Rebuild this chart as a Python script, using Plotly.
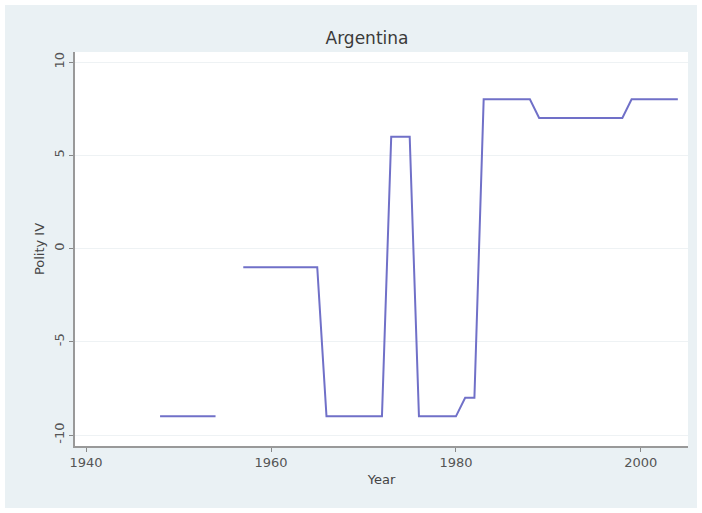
import plotly.graph_objects as go

years = list(range(1948, 2005))
polity = ([-9] * 7 + [None] * 2 + [-1] * 9 + [-9] * 7 + [6] * 3 + [-9] * 5
          + [-8] * 2 + [8] * 6 + [7] * 10 + [8] * 6)
x_ticks = [1940, 1960, 1980, 2000]
y_ticks = [-10, -5, 0, 5, 10]
y_tick_labels = ["-10", "-5", "0", "5", "10"]

W, H = 702, 513
L, R, T, B = 75, 688, 52, 446
pw, ph = R - L, B - T

def px(xp):
    return (xp - L) / pw

def py(yp):
    return (B - yp) / ph

fig = go.Figure()
fig.add_trace(go.Scatter(x=years, y=polity, mode="lines", connectgaps=False,
                         line=dict(color="#7070c8", width=2), showlegend=False))

font = "DejaVu Sans"
fig.update_layout(
    width=W, height=H,
    margin=dict(l=L, r=W - R, t=T, b=H - B, pad=0),
    paper_bgcolor="white",
    plot_bgcolor="white",
    title=dict(text="Argentina", x=367 / W, xref="container", xanchor="center",
               y=1 - 38 / H, yref="container", yanchor="middle",
               font=dict(family=font, size=17, color="#3a3a3a")),
    xaxis=dict(range=[1938.8, 2005.1], tickvals=x_ticks, ticks="outside", ticklen=4,
               tickcolor="#888888", showline=True, linecolor="#999999", linewidth=1.5,
               showgrid=False, zeroline=False,
               tickfont=dict(family=font, size=13, color="#555555"),
               title=dict(text="Year", standoff=6,
                          font=dict(family=font, size=13, color="#444444"))),
    yaxis=dict(range=[-10.59, 10.54], tickvals=y_ticks, ticktext=y_tick_labels,
               ticks="outside", ticklen=4,
               tickcolor="#888888", showline=True, linecolor="#999999", linewidth=1.5,
               showgrid=True, gridcolor="#eef2f4", gridwidth=1, zeroline=False,
               tickangle=-90,
               tickfont=dict(family=font, size=13, color="#555555"),
               title=dict(text="Polity IV", standoff=4,
                          font=dict(family=font, size=13, color="#444444"))),
    shapes=[
        dict(type="rect", xref="paper", yref="paper", layer="below",
             x0=px(5), x1=px(697), y0=py(5), y1=py(508),
             fillcolor="#eaf1f4", line=dict(width=0)),
        dict(type="rect", xref="paper", yref="paper", layer="below",
             x0=0, x1=1, y0=0, y1=1,
             fillcolor="white", line=dict(width=0)),
    ],
)

fig.write_html("out.html")
